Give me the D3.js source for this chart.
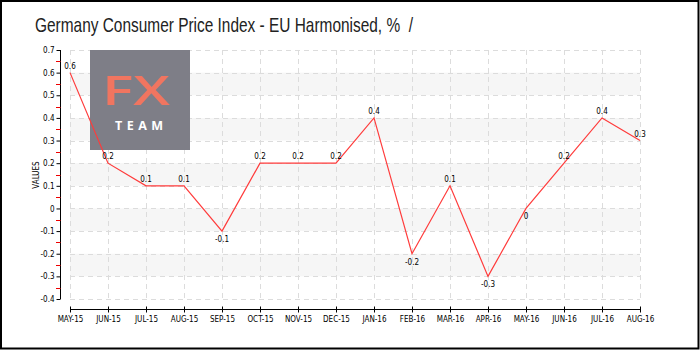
<!DOCTYPE html>
<html><head><meta charset="utf-8">
<script src="https://cdn.jsdelivr.net/npm/d3@7"></script>
<style>
html,body{margin:0;padding:0;background:#fff;}
svg{display:block;}
</style></head>
<body>
<svg id="c" width="700" height="350"></svg>
<script>
const categories = ["MAY-15","JUN-15","JUL-15","AUG-15","SEP-15","OCT-15","NOV-15","DEC-15","JAN-16","FEB-16","MAR-16","APR-16","MAY-16","JUN-16","JUL-16","AUG-16"];
const values = [0.6,0.2,0.1,0.1,-0.1,0.2,0.2,0.2,0.4,-0.2,0.1,-0.3,0,0.2,0.4,0.3];
const yTicks = [0.7,0.6,0.5,0.4,0.3,0.2,0.1,0,-0.1,-0.2,-0.3,-0.4];
const title = "Germany Consumer Price Index - EU Harmonised, %  /";

const svg = d3.select("#c");
const W = 700, H = 350;
svg.append("rect").attr("x",1).attr("y",1).attr("width",W-2.5).attr("height",H-2.5)
  .attr("fill","#fff").attr("stroke","#000").attr("stroke-width",2);

const x = d3.scalePoint().domain(categories).range([70,640]);
const y = d3.scaleLinear().domain([-0.4,0.7]).range([299,50]);
const fontT = "'DejaVu Sans Condensed','Liberation Sans Narrow',sans-serif";
const fmt = d => String(d);

svg.append("text").attr("x",35).attr("y",32).attr("font-family","'Liberation Sans','DejaVu Sans',sans-serif")
  .attr("font-size",21).attr("fill","#222").attr("textLength",378).attr("lengthAdjust","spacingAndGlyphs")
  .style("white-space","pre").text(title);

// bands
const bandPairs = [[0.6,0.5],[0.4,0.3],[0.2,0.1],[0,-0.1],[-0.2,-0.3]];
svg.append("g").selectAll("rect").data(bandPairs).join("rect")
  .attr("x",70).attr("width",570).attr("y",d=>y(d[0])).attr("height",d=>y(d[1])-y(d[0]))
  .attr("fill","#f6f6f6");

// grid
const grid = svg.append("g").attr("stroke","#dcdcdc").attr("stroke-dasharray","5,4").attr("stroke-width",1);
grid.selectAll(".h").data(yTicks).join("line")
  .attr("x1",70).attr("x2",640).attr("y1",d=>Math.round(y(d))+0.5).attr("y2",d=>Math.round(y(d))+0.5);
grid.selectAll(".v").data(categories).join("line")
  .attr("x1",d=>Math.round(x(d))+0.5).attr("x2",d=>Math.round(x(d))+0.5).attr("y1",50).attr("y2",299);

// logo
const logo = svg.append("g");
logo.append("rect").attr("x",90).attr("y",50).attr("width",100).attr("height",100).attr("fill","#7e7e87");
logo.append("text").attr("x",102).attr("y",105).attr("font-family","'Open Sans',sans-serif")
  .attr("font-weight",600).attr("font-size",40).attr("fill","#f07560")
  .attr("textLength",68).attr("lengthAdjust","spacingAndGlyphs").text("FX");
logo.append("text").attr("x",115).attr("y",130).attr("font-family","'Open Sans',sans-serif")
  .attr("font-weight","bold").attr("font-size",12.5).attr("fill","#fff")
  .attr("textLength",48).attr("lengthAdjust","spacing").text("TEAM");

// y axis
const yAxis = d3.axisLeft(y).tickValues(yTicks).tickSize(4).tickFormat(fmt);
const ga = svg.append("g").attr("transform","translate(60.5,0)").call(yAxis);
ga.select(".domain").attr("stroke","#000").attr("d","M0,"+y(0.7)+"V"+y(-0.4));
ga.selectAll("text").attr("font-family",fontT).attr("font-size",8).attr("fill","#000").attr("x",-6);
const minor = d3.range(0,11).map(i=>-0.35+i*0.1);
svg.append("g").selectAll("line").data(minor).join("line")
  .attr("x1",56).attr("x2",60.5).attr("y1",d=>Math.round(y(d))+0.5).attr("y2",d=>Math.round(y(d))+0.5)
  .attr("stroke","#e00");

svg.append("text").attr("transform","translate(39,175) rotate(-90)").attr("text-anchor","middle")
  .attr("font-family",fontT).attr("font-size",8).attr("fill","#000").text("VALUES");

// x axis
const xAxis = d3.axisBottom(x).tickSize(3).tickSizeOuter(0);
const gx = svg.append("g").attr("transform","translate(0,309.5)").call(xAxis);
gx.select(".domain").attr("stroke","#000").attr("d","M70,0H640");
gx.selectAll(".tick line").attr("y1",-3).attr("y2",3).attr("stroke","#000");
gx.selectAll("text").attr("font-family",fontT).attr("font-size",8).attr("fill","#000").attr("y",7);

// line
const line = d3.line().x((d,i)=>x(categories[i])).y(d=>y(d));
svg.append("path").datum(values).attr("d",line).attr("fill","none").attr("stroke","#ff3b3b").attr("stroke-width",1.2);

// labels
svg.append("g").selectAll("text").data(values).join("text")
  .attr("x",(d,i)=>x(categories[i])).attr("y",d=>d>0 ? y(d)-4 : y(d)+11).attr("text-anchor","middle")
  .attr("font-family",fontT).attr("font-size",8).attr("fill","#000").text(fmt);
</script>
</body></html>
